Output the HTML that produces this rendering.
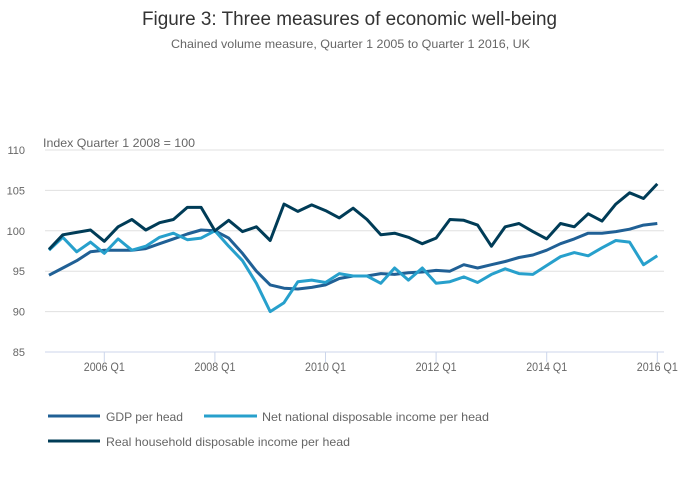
<!DOCTYPE html>
<html><head><meta charset="utf-8"><style>
html,body{margin:0;padding:0;background:#fff;}
svg{display:block;font-family:"Liberation Sans",sans-serif;}
</style></head><body>
<svg id="chart" width="700" height="502" viewBox="0 0 700 502">
<text x="142" y="25" font-size="19" fill="#333" textLength="415" lengthAdjust="spacingAndGlyphs">Figure 3: Three measures of economic well-being</text>
<text x="171" y="48" font-size="12" fill="#666" textLength="359" lengthAdjust="spacingAndGlyphs">Chained volume measure, Quarter 1 2005 to Quarter 1 2016, UK</text>
<text x="43" y="147" font-size="12" fill="#666" textLength="152" lengthAdjust="spacingAndGlyphs">Index Quarter 1 2008 = 100</text>
<g id="grid"></g><g id="xaxis"></g><g id="lines"></g>
<g>
<line x1="48" y1="416" x2="100" y2="416" stroke="#206095" stroke-width="3"/>
<text x="106" y="421" font-size="12" fill="#666" textLength="77" lengthAdjust="spacingAndGlyphs">GDP per head</text>
<line x1="204" y1="416" x2="257" y2="416" stroke="#27a0cc" stroke-width="3"/>
<text x="262" y="421" font-size="12" fill="#666" textLength="227" lengthAdjust="spacingAndGlyphs">Net national disposable income per head</text>
<line x1="48" y1="441" x2="100" y2="441" stroke="#003c57" stroke-width="3"/>
<text x="106" y="446" font-size="12" fill="#666" textLength="244" lengthAdjust="spacingAndGlyphs">Real household disposable income per head</text>
</g>
</svg>
<script>
const yTicks=[85,90,95,100,105,110];
const xTickLabels=["2006 Q1","2008 Q1","2010 Q1","2012 Q1","2014 Q1","2016 Q1"];
const xTickIndex=[4,12,20,28,36,44];
const gdp=[94.5,95.4,96.3,97.4,97.6,97.6,97.6,97.8,98.4,99.0,99.6,100.1,100.0,99.1,97.2,95.0,93.3,92.9,92.8,93.0,93.3,94.1,94.4,94.4,94.7,94.6,94.8,94.9,95.1,95.0,95.8,95.4,95.8,96.2,96.7,97.0,97.6,98.4,99.0,99.7,99.7,99.9,100.2,100.7,100.9];
const nndi=[97.6,99.2,97.4,98.6,97.2,99.0,97.6,98.1,99.2,99.7,98.9,99.1,100.0,98.1,96.3,93.5,90.0,91.1,93.7,93.9,93.6,94.7,94.4,94.4,93.5,95.4,93.9,95.4,93.5,93.7,94.3,93.6,94.6,95.3,94.7,94.6,95.7,96.8,97.3,96.9,97.9,98.8,98.6,95.8,96.9];
const rhdi=[97.7,99.5,99.8,100.1,98.7,100.5,101.4,100.1,101.0,101.4,102.9,102.9,100.0,101.3,99.9,100.5,98.8,103.3,102.4,103.2,102.5,101.6,102.8,101.4,99.5,99.7,99.2,98.4,99.1,101.4,101.3,100.7,98.1,100.5,100.9,99.9,99.0,100.9,100.5,102.1,101.2,103.3,104.7,104.0,105.8];
const NS='http://www.w3.org/2000/svg';
const x0=49,x1=657.3,n=45;
function xs(i){return x0+(x1-x0)*i/(n-1);}
function ys(v){return 352-(v-85)*(202/25);}
function mk(tag,attrs,parent){const e=document.createElementNS(NS,tag);for(const k in attrs)e.setAttribute(k,attrs[k]);parent.appendChild(e);return e;}
const grid=document.getElementById('grid');
yTicks.forEach(v=>{
  if(v>85){const l=mk('line',{x1:45,x2:664,y1:ys(v),y2:ys(v),stroke:'#e0e0e0','stroke-width':1},grid);
  
  }
  const t=mk('text',{x:25,y:ys(v)+4,'font-size':11,fill:'#666','text-anchor':'end'},grid);
  t.textContent=v;
  
  
});
const xa=document.getElementById('xaxis');
const ax=mk('line',{x1:45,x2:664,y1:352,y2:352,stroke:'#ccd6eb','stroke-width':1},xa);


xTickLabels.forEach((lab,k)=>{
  const x=xs(xTickIndex[k]);
  const tk=mk('line',{x1:x,x2:x,y1:352,y2:362,stroke:'#ccd6eb','stroke-width':1},xa);
  
  
  const t=mk('text',{x:x,y:371,'font-size':11.5,fill:'#666','text-anchor':'middle',textLength:41,lengthAdjust:'spacingAndGlyphs'},xa);
  t.textContent=lab;
  
  
});
const lines=document.getElementById('lines');
[[gdp,'#206095','line-gdp-per-head'],[nndi,'#27a0cc','line-nndi-per-head'],[rhdi,'#003c57','line-rhdi-per-head']].forEach(([d,c,name])=>{
  const p=mk('path',{d:d.map((v,i)=>(i?'L':'M')+xs(i).toFixed(1)+','+ys(v).toFixed(1)).join(''),fill:'none',stroke:c,'stroke-width':3,'stroke-linejoin':'round'},lines);
  
  
});
</script>
</body></html>
